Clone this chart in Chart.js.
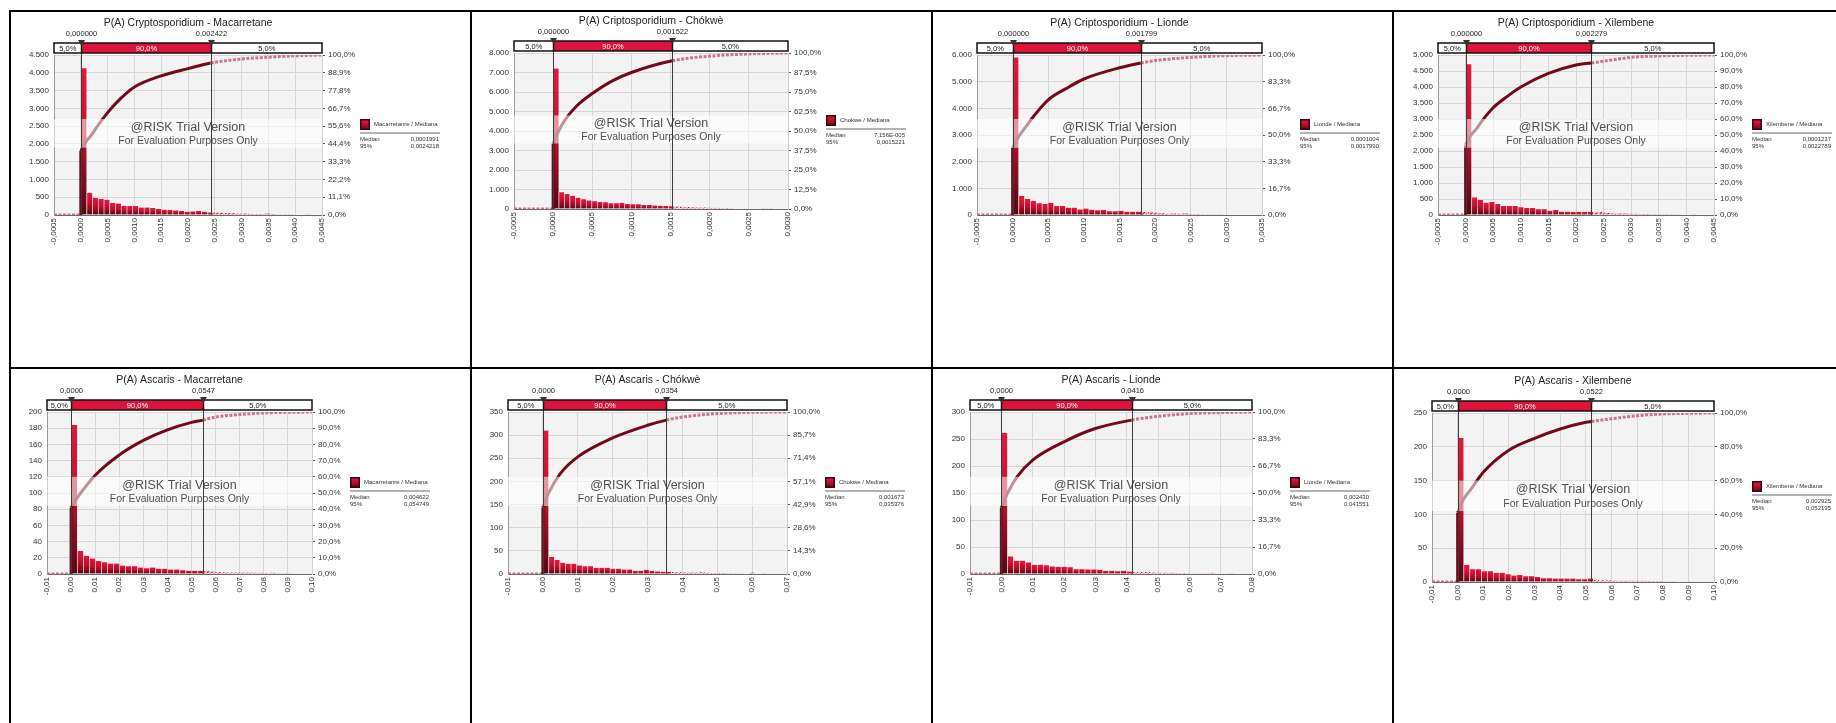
<!DOCTYPE html>
<html>
<head>
<meta charset="utf-8">
<title>@RISK P(A) histograms</title>
<script src="https://cdn.jsdelivr.net/npm/chart.js@4.4.0/dist/chart.umd.min.js"></script>
<style>
  html, body { margin: 0; padding: 0; background: #fff; }
  body { width: 1836px; height: 723px; position: relative; overflow: hidden; }
  .cell { position: absolute; display: block; }
  .rule { position: absolute; background: #000; }
</style>
</head>
<body>
<script>
// ---- data ----
const titles = ['P(A) Cryptosporidium - Macarretane', 'P(A) Criptosporidium - Chókwè', 'P(A) Criptosporidium - Lionde', 'P(A) Criptosporidium - Xilembene',
                'P(A) Ascaris - Macarretane', 'P(A) Ascaris - Chókwè', 'P(A) Ascaris - Lionde', 'P(A) Ascaris - Xilembene'];
const legendNames = ['Macarretanre / Mediana', 'Chokwe / Mediana', 'Lionde / Mediana', 'Xilembene / Mediana',
                     'Macarretanre / Mediana', 'Chokwe / Mediana', 'Lionde / Mediana', 'Xilembene / Mediana'];
const medianLabels = ['0,0001991', '7,156E-005', '0,0001004', '0,0001237', '0,004622', '0,001673', '0,002430', '0,002925'];
const p95Labels = ['0,0024218', '0,0015221', '0,0017990', '0,0022789', '0,054749', '0,035376', '0,041551', '0,052195'];
const p5Values = [0, 0, 0, 0, 0, 0, 0, 0];
const p95Values = [0.002422, 0.001522, 0.001799, 0.002279, 0.0547, 0.0354, 0.0416, 0.0522];
const leftMarkerLabels = ['0,000000', '0,000000', '0,000000', '0,000000', '0,0000', '0,0000', '0,0000', '0,0000'];
const rightMarkerLabels = ['0,002422', '0,001522', '0,001799', '0,002279', '0,0547', '0,0354', '0,0416', '0,0522'];

const xMins = [-0.0005, -0.0005, -0.0005, -0.0005, -0.01, -0.01, -0.01, -0.01];
const xMaxs = [0.0045, 0.0030, 0.0035, 0.0045, 0.10, 0.07, 0.08, 0.10];
const xSteps = [0.0005, 0.0005, 0.0005, 0.0005, 0.01, 0.01, 0.01, 0.01];
const xDecimals = [4, 4, 4, 4, 2, 2, 2, 2];
const yMaxs = [4500, 8000, 6000, 5000, 200, 350, 300, 250];
const ySteps = [500, 1000, 1000, 500, 20, 50, 50, 50];

const binWidths = [0.000107, 0.00007, 0.000082, 0.000105, 0.0025, 0.0016, 0.0019, 0.0023];

const barsCryMac = [4130, 620, 480, 450, 430, 340, 320, 260, 250, 250, 210, 210, 200, 170, 150, 140, 130, 110, 90, 100,
                    110, 90, 70, 70, 60, 55, 50, 40, 40, 35, 30, 30, 40, 25, 20, 20, 20, 15, 15, 10];
const barsCryCho = [7200, 860, 770, 680, 580, 500, 440, 400, 360, 340, 300, 300, 320, 260, 240, 240, 210, 200, 180, 170,
                    160, 140, 130, 110, 100, 90, 80, 80, 70, 60, 50, 50, 40, 30, 30, 25, 20, 20, 15, 10];
const barsCryLio = [5910, 710, 600, 525, 440, 410, 460, 340, 340, 275, 275, 210, 240, 200, 175, 190, 140, 140, 160, 125,
                    125, 120, 110, 100, 80, 70, 50, 60, 45, 60, 40, 35, 30, 30, 25, 25, 20, 20, 20, 15];
const barsCryXil = [4710, 550, 470, 385, 405, 345, 280, 280, 280, 240, 220, 220, 180, 180, 135, 155, 105, 105, 95, 95,
                    95, 90, 80, 90, 60, 50, 50, 45, 40, 40, 35, 30, 25, 25, 20, 20, 20, 15, 15, 10];
const barsAscMac = [184, 28.5, 22.5, 19, 16, 14.5, 13, 13, 10.5, 9.5, 9.5, 8, 7, 8, 6.5, 6.5, 5.5, 5.5, 4.5, 4,
                    4, 4, 3.5, 3, 2.5, 2.2, 2, 2, 1.8, 1.8, 1.6, 1.6, 1.3, 1.6, 1, 0.8, 0.8, 0.5];
const barsAscCho = [310, 36.5, 30, 24.5, 22, 22, 18.5, 16.5, 16.5, 13.5, 13.5, 13.5, 11.5, 11.5, 9.5, 9.5, 7, 7, 9, 6.5,
                    5.5, 5, 5, 4.5, 4, 3.5, 3.5, 3, 4, 2.5, 2, 2, 2, 1.8, 1.5, 1.5, 1.2, 3, 1, 0.7];
const barsAscLio = [261, 32.5, 24.5, 24.5, 21.5, 17, 17, 16, 14, 13.5, 13.5, 12.5, 9, 9, 8.5, 8.5, 8, 6, 6, 5,
                    6, 4.5, 3.8, 3.5, 3.5, 3, 2.5, 2.5, 2.5, 2, 2, 1.5, 1.5, 1.5, 1.2, 2.2, 1, 0.8, 0.6];
const barsAscXil = [213, 25, 19, 19, 16, 16, 13.5, 13.5, 11.5, 9.5, 10.5, 8.5, 8.5, 7.5, 5.5, 5.5, 5, 5, 5, 5,
                    4, 4, 5, 3, 2.5, 2.5, 2.2, 2, 2, 2, 1.8, 1.8, 1.6, 1.5, 1.4, 1.2, 1.2, 0.8, 0.6, 0.5];

// cumulative curves (right axis, %); the repeated x = 0 is the jump at zero
const cdfXCryMac = [-0.0005, 0, 0, 0.0001, 0.0002, 0.0003, 0.0005, 0.00075, 0.001, 0.0015, 0.002, 0.002422, 0.003, 0.0035, 0.004, 0.0045];
const cdfYCryMac = [0, 0, 40, 46, 50, 55, 64, 73, 80, 87, 91.5, 95, 97.5, 98.6, 99.5, 100];
const cdfXCryCho = [-0.0005, 0, 0, 0.00007, 0.00015, 0.0003, 0.0005, 0.00075, 0.001, 0.001522, 0.002, 0.0025, 0.003];
const cdfYCryCho = [0, 0, 42, 50, 57, 66, 74, 82, 87.5, 95, 98, 99.4, 100];
const cdfXCryLio = [-0.0005, 0, 0, 0.0001, 0.0002, 0.0003, 0.0005, 0.00075, 0.001, 0.0015, 0.001799, 0.002, 0.0025, 0.003, 0.0035];
const cdfYCryLio = [0, 0, 42, 50, 56, 62, 72, 79, 85, 92, 95, 96.5, 98.5, 99.6, 100];
const cdfXCryXil = [-0.0005, 0, 0, 0.0001, 0.0002, 0.0003, 0.0005, 0.00075, 0.001, 0.0015, 0.002, 0.002279, 0.003, 0.0035, 0.004, 0.0045];
const cdfYCryXil = [0, 0, 44, 50, 54, 59, 67, 74, 80, 88.5, 93.8, 95, 98.5, 99.4, 99.8, 100];
const cdfXAscMac = [-0.01, 0, 0, 0.0025, 0.005, 0.01, 0.02, 0.03, 0.04, 0.05, 0.0547, 0.06, 0.07, 0.08, 0.09, 0.10];
const cdfYAscMac = [0, 0, 41, 47, 52, 61, 73.5, 82.5, 89, 93.6, 95, 96.9, 98.4, 99.4, 99.8, 100];
const cdfXAscCho = [-0.01, 0, 0, 0.0016, 0.005, 0.01, 0.02, 0.03, 0.0354, 0.04, 0.05, 0.06, 0.07];
const cdfYAscCho = [0, 0, 41, 49.8, 62, 72.3, 84, 91.8, 95, 96.9, 99, 99.8, 100];
const cdfXAscLio = [-0.01, 0, 0, 0.0019, 0.005, 0.01, 0.02, 0.03, 0.0416, 0.05, 0.06, 0.07, 0.08];
const cdfYAscLio = [0, 0, 41, 49.5, 60, 70.3, 81.6, 89.8, 95, 97.3, 99, 99.6, 100];
const cdfXAscXil = [-0.01, 0, 0, 0.0023, 0.005, 0.01, 0.02, 0.03, 0.04, 0.05, 0.0522, 0.06, 0.07, 0.08, 0.09, 0.10];
const cdfYAscXil = [0, 0, 41, 49, 54.5, 65, 78, 85, 90.5, 94.5, 95, 96.6, 98.4, 99.4, 99.8, 100];

const allBars = [barsCryMac, barsCryCho, barsCryLio, barsCryXil, barsAscMac, barsAscCho, barsAscLio, barsAscXil];
const allCdfX = [cdfXCryMac, cdfXCryCho, cdfXCryLio, cdfXCryXil, cdfXAscMac, cdfXAscCho, cdfXAscLio, cdfXAscXil];
const allCdfY = [cdfYCryMac, cdfYCryCho, cdfYCryLio, cdfYCryXil, cdfYAscMac, cdfYAscCho, cdfYAscLio, cdfYAscXil];

// ---- layout (page pixels) ----
const colX = [11, 472, 933, 1394];
const colW = [459, 459, 459, 442];
const rowY = [12, 369];
const rowH = [355, 354];
// plot area of each chart: left, top, right, bottom
const plotBoxes = [
  [54, 55, 322, 215], [514, 53, 788, 209], [977, 55, 1262, 215], [1438, 55, 1714, 215],
  [47, 412, 312, 574], [508, 412, 787, 574], [970, 412, 1252, 574], [1432, 413, 1714, 582]
];
const Y_AXIS_W = 30, Y2_AXIS_W = 36, X_AXIS_H = 30;

const FONT = '"Liberation Sans", Arial, sans-serif';
const CURVE = '#730a1c', CURVE_TAIL = '#cf7388';
Chart.defaults.font.family = FONT;
Chart.defaults.font.size = 8;
Chart.defaults.color = '#333';

function fmtDec(v, d) {
  if (Math.abs(v) < 1e-12) v = 0;
  return v.toFixed(d).replace('.', ',');
}
function fmtInt(v) {
  return String(Math.round(v)).replace(/\B(?=(\d{3})+(?!\d))/g, '.');
}

function barGradient(c, top, bottom) {
  const g = c.createLinearGradient(0, top, 0, bottom);
  g.addColorStop(0, '#e4183f');
  g.addColorStop(0.45, '#c5102f');
  g.addColorStop(1, '#520814');
  return g;
}

function hatchPattern(c) {
  const pc = document.createElement('canvas');
  pc.width = 4; pc.height = 4;
  const g = pc.getContext('2d');
  g.fillStyle = '#f2c2cc';
  g.fillRect(0, 0, 4, 4);
  g.strokeStyle = '#c8143a';
  g.lineWidth = 1.3;
  g.beginPath(); g.moveTo(-1, 5); g.lineTo(5, -1); g.stroke();
  return c.createPattern(pc, 'repeat');
}

const riskDeco = {
  id: 'riskDeco',
  beforeDraw(chart) {
    const a = chart.chartArea, c = chart.ctx;
    c.save();
    c.fillStyle = '#f3f3f3';
    c.fillRect(a.left, a.top, a.right - a.left, a.bottom - a.top);
    c.restore();
  },
  afterDraw(chart, args, o) {
    const a = chart.chartArea, c = chart.ctx, xs = chart.scales.x;
    const w = a.right - a.left, h = a.bottom - a.top, cx = (a.left + a.right) / 2;
    c.save();

    // watermark
    c.fillStyle = 'rgba(255,255,255,0.55)';
    c.fillRect(a.left, a.top + h * 0.40, w, h * 0.18);
    c.fillStyle = '#505050';
    c.textAlign = 'center';
    c.textBaseline = 'middle';
    c.font = '12.5px ' + FONT;
    c.fillText('@RISK Trial Version', cx, a.top + h * 0.455);
    c.font = '10.5px ' + FONT;
    c.fillText('For Evaluation Purposes Only', cx, a.top + h * 0.54);

    // percentile lines
    const x5 = Math.round(xs.getPixelForValue(o.p5)) + 0.5;
    const x95 = Math.round(xs.getPixelForValue(o.p95)) + 0.5;
    const barB = a.top - 2, barT = barB - 10;
    c.strokeStyle = '#3c3c3c';
    c.lineWidth = 1;
    [x5, x95].forEach(x => {
      c.beginPath(); c.moveTo(x, barB); c.lineTo(x, a.bottom); c.stroke();
    });

    // percentile bar
    c.fillStyle = '#fff';
    c.fillRect(a.left, barT, w, 10);
    c.fillStyle = '#dc143c';
    c.fillRect(x5, barT, x95 - x5, 10);
    c.strokeStyle = '#111';
    c.lineWidth = 1.5;
    c.strokeRect(a.left, barT, w, 10);
    c.beginPath();
    c.moveTo(x5, barT); c.lineTo(x5, barB);
    c.moveTo(x95, barT); c.lineTo(x95, barB);
    c.stroke();
    c.font = '7.5px ' + FONT;
    c.fillStyle = '#222';
    c.fillText('5,0%', (a.left + x5) / 2, barT + 5.5);
    c.fillText('5,0%', (x95 + a.right) / 2, barT + 5.5);
    c.fillStyle = '#fff';
    c.fillText('90,0%', (x5 + x95) / 2, barT + 5.5);

    // marker triangles + labels
    c.fillStyle = '#333';
    [x5, x95].forEach(x => {
      c.beginPath();
      c.moveTo(x - 3.5, barT - 3); c.lineTo(x + 3.5, barT - 3); c.lineTo(x, barT + 3);
      c.closePath(); c.fill();
    });
    c.fillStyle = '#222';
    c.fillText(o.leftLabel, x5, barT - 9);
    c.fillText(o.rightLabel, x95, barT - 9);

    // title
    c.font = '10.5px ' + FONT;
    c.fillStyle = '#222';
    c.fillText(o.title, cx, a.top - 32);

    // legend
    const lx = a.right + 38, ly = Math.round(a.top + h * 0.4);
    c.fillStyle = barGradient(c, ly, ly + 11);
    c.fillRect(lx, ly, 10, 11);
    c.strokeStyle = '#3a0610';
    c.lineWidth = 1.5;
    c.strokeRect(lx + 0.75, ly + 0.75, 8.5, 9.5);
    c.font = '6px ' + FONT;
    c.fillStyle = '#333';
    c.textAlign = 'left';
    c.fillText(o.legendName, lx + 14, ly + 5.5);
    c.strokeStyle = '#9a9a9a';
    c.beginPath(); c.moveTo(lx, ly + 14); c.lineTo(lx + 80, ly + 14); c.stroke();
    c.fillText('Median', lx, ly + 20);
    c.fillText('95%', lx, ly + 27);
    c.textAlign = 'right';
    c.fillText(o.median, lx + 79, ly + 20);
    c.fillText(o.p95Label, lx + 79, ly + 27);
    c.restore();
  }
};

function addRule(x, y, w, h) {
  const d = document.createElement('div');
  d.className = 'rule';
  Object.assign(d.style, { left: x + 'px', top: y + 'px', width: w + 'px', height: h + 'px' });
  document.body.appendChild(d);
}

for (let i = 0; i < 8; i++) {
  const col = i % 4, row = Math.floor(i / 4);
  const cw = colW[col], ch = rowH[row];
  const ox = colX[col], oy = rowY[row];
  const [pl, pt, pr, pb] = plotBoxes[i];

  const cv = document.createElement('canvas');
  cv.className = 'cell';
  cv.width = cw; cv.height = ch;
  cv.style.left = ox + 'px';
  cv.style.top = oy + 'px';
  document.body.appendChild(cv);

  const bw = binWidths[i], p5 = p5Values[i], p95 = p95Values[i];
  const yMax = yMaxs[i], yStep = ySteps[i];
  const barData = allBars[i].map((v, k) => ({ x: p5 + (k + 0.5) * bw, y: v }));
  const cdfPts = allCdfX[i].map((x, k) => ({ x: x, y: allCdfY[i][k] }));
  // split at the vertical jump: straight part up to the top of the jump, smooth curve after it
  let jump = cdfPts.findIndex((p, k) => k > 0 && p.x === cdfPts[k - 1].x);
  if (jump < 0) jump = 0;
  const cdfStep = cdfPts.slice(0, jump + 1);
  const cdfCurve = cdfPts.slice(jump);
  const isTail = s => s.p0.parsed.x < p5 || s.p0.parsed.x >= p95 - 1e-9;
  let hatch = null;

  new Chart(cv, {
    data: {
      datasets: [
        {
          type: 'line',
          data: cdfStep,
          yAxisID: 'y2',
          order: 0,
          borderColor: CURVE,
          borderWidth: 3,
          pointRadius: 0,
          tension: 0,
          segment: {
            borderColor: s => isTail(s) ? CURVE_TAIL : CURVE,
            borderDash: s => isTail(s) ? [3, 1.5] : undefined
          }
        },
        {
          type: 'line',
          data: cdfCurve,
          yAxisID: 'y2',
          order: 0,
          borderColor: CURVE,
          borderWidth: 3,
          pointRadius: 0,
          cubicInterpolationMode: 'monotone',
          segment: {
            borderColor: s => isTail(s) ? CURVE_TAIL : CURVE,
            borderDash: s => isTail(s) ? [3, 1.5] : undefined
          }
        },
        {
          type: 'bar',
          data: barData,
          yAxisID: 'y',
          order: 1,
          barPercentage: 1,
          categoryPercentage: 1,
          borderWidth: { left: 1, right: 0, top: 0, bottom: 0 },
          borderColor: 'rgba(255,170,185,0.45)',
          borderSkipped: false,
          backgroundColor: ctx => {
            const chart = ctx.chart;
            if (!chart.chartArea || ctx.type !== 'data' || !ctx.parsed) return '#c8102e';
            const start = ctx.parsed.x - bw / 2;
            if (start >= p95) {
              if (!hatch) hatch = hatchPattern(chart.ctx);
              return hatch;
            }
            const ys = chart.scales.y;
            const top = ys.getPixelForValue(ctx.parsed.y), bot = ys.getPixelForValue(0);
            return barGradient(chart.ctx, top, Math.max(bot, top + 1));
          }
        }
      ]
    },
    options: {
      responsive: false,
      animation: false,
      devicePixelRatio: 1,
      layout: {
        padding: {
          left: pl - ox - Y_AXIS_W,
          top: pt - oy,
          right: cw - (pr - ox) - Y2_AXIS_W,
          bottom: ch - (pb - oy) - X_AXIS_H
        }
      },
      plugins: {
        legend: { display: false },
        tooltip: { enabled: false },
        riskDeco: {
          p5: p5, p95: p95, title: titles[i], legendName: legendNames[i],
          median: medianLabels[i], p95Label: p95Labels[i],
          leftLabel: leftMarkerLabels[i], rightLabel: rightMarkerLabels[i]
        }
      },
      scales: {
        x: {
          type: 'linear',
          min: xMins[i], max: xMaxs[i],
          offset: false,
          afterBuildTicks: axis => {
            const n = Math.round((xMaxs[i] - xMins[i]) / xSteps[i]);
            const t = [];
            for (let k = 0; k <= n; k++) t.push({ value: xMins[i] + k * xSteps[i] });
            axis.ticks = t;
          },
          afterFit: axis => { axis.height = X_AXIS_H; },
          ticks: {
            autoSkip: false, minRotation: 90, maxRotation: 90, padding: 3,
            callback: v => fmtDec(v, xDecimals[i])
          },
          grid: { color: '#d7d7d7', offset: false, drawTicks: false },
          border: { color: '#6a6a6a' }
        },
        y: {
          type: 'linear', position: 'left',
          min: 0, max: yMax,
          afterFit: axis => { axis.width = Y_AXIS_W; },
          ticks: { stepSize: yStep, autoSkip: false, padding: 5, callback: v => fmtInt(v) },
          grid: { color: '#d7d7d7', drawTicks: false },
          border: { color: '#9a9a9a' }
        },
        y2: {
          type: 'linear', position: 'right',
          min: 0, max: 100,
          afterBuildTicks: axis => {
            const t = [];
            for (let v = 0; v <= yMax + 1e-9; v += yStep) t.push({ value: v / yMax * 100 });
            axis.ticks = t;
          },
          afterFit: axis => { axis.width = Y2_AXIS_W; },
          ticks: { autoSkip: false, padding: 3, callback: v => fmtDec(v, 1) + '%' },
          grid: { drawOnChartArea: false, tickLength: 3, tickColor: '#555' },
          border: { color: '#d0d0d0' }
        }
      }
    },
    plugins: [riskDeco]
  });
}

// table borders
addRule(9, 10, 1827, 2);
addRule(9, 367, 1827, 2);
addRule(9, 10, 2, 713);
addRule(470, 10, 2, 713);
addRule(931, 10, 2, 713);
addRule(1392, 10, 2, 713);
</script>
</body>
</html>
